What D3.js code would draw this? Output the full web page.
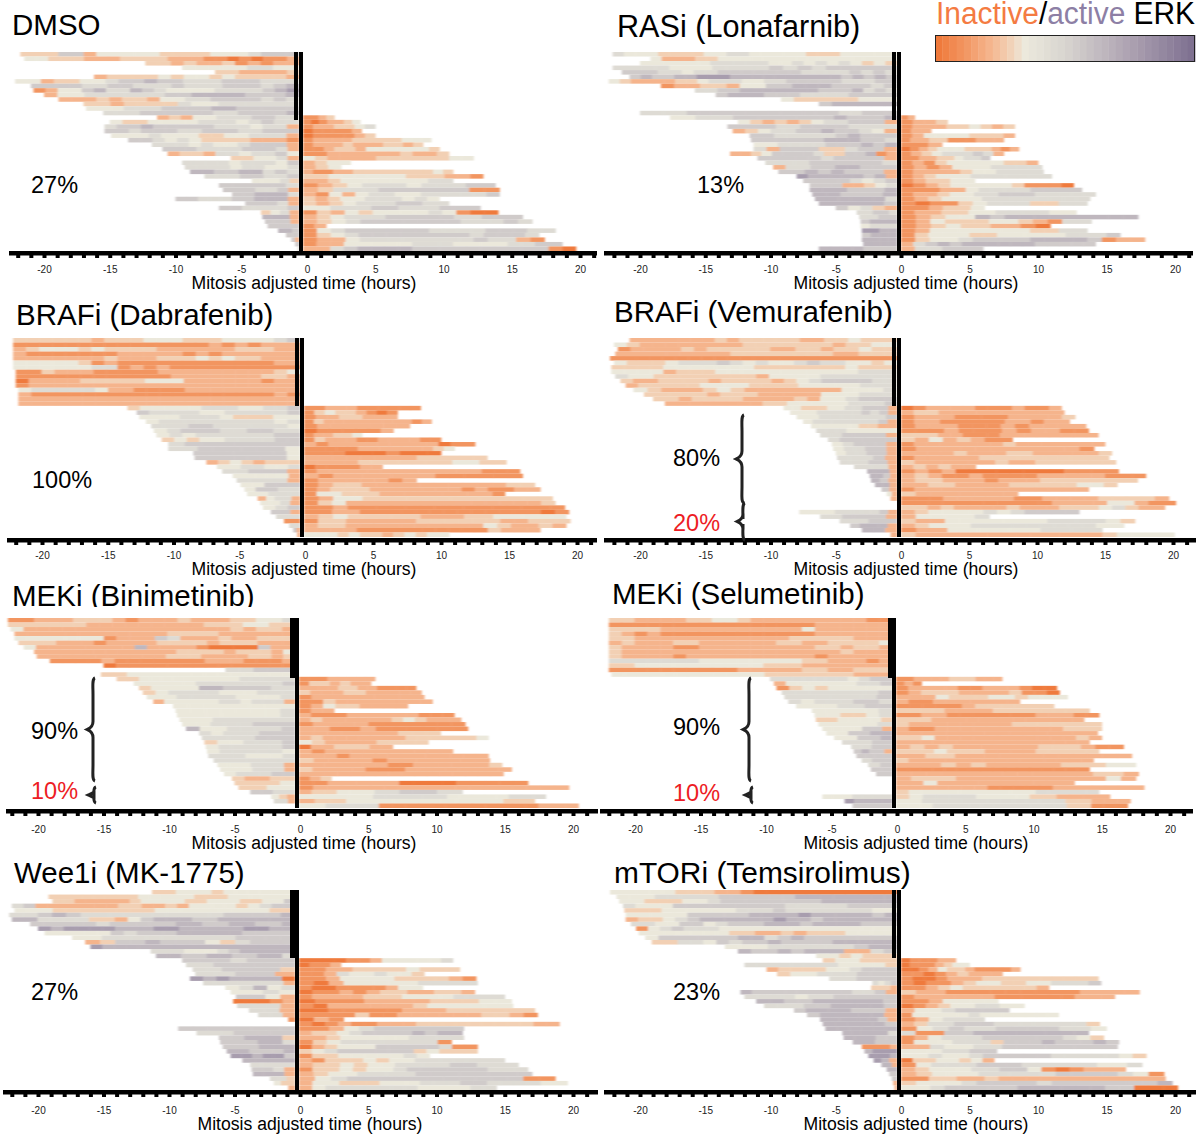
<!DOCTYPE html>
<html>
<head>
<meta charset="utf-8">
<script src="https://cdnjs.cloudflare.com/ajax/libs/d3/7.8.5/d3.min.js"></script>
<style>
  html, body { margin: 0; padding: 0; background: #fff; }
  text { font-family: "Liberation Sans", Arial, sans-serif; }
</style>
</head>
<body>
<div id="my_dataviz"></div>
<script>
// ERK level per block: 0 = most inactive (orange), 4 = neutral, 9 = most active (purple)
// pre rows: [first hour, levels from there up to mitosis]
// post rows: [last hour, levels from mitosis up to there], stacked against the bottom
const dmsoPre = [
  [-21.8,"3336624444433334445666"],[-21.5,"44333222333322211010112"],[-12.3,"332322312122"],[-9.5,"444445544"],
  [-7,"3322223"],[-16.2,"2333343443433332"],[-22.2,"4423344566766555666555"],[-21,"666655665556555666567"],
  [-20.8,"1244675576544445555678"],[-20,"2445555556677776667"],[-18.9,"2223233244556666565"],[-17,"3323333544555555"],
  [-16.8,"44455566667766666"],[-15.5,"5556666665566667"],[-11.4,"232445556655"],[-15,"433444455545655"],
  [-15.4,"5667666665554552"],[-15.4,"6656665566655666"],[-14.9,"444544433445552"],[-13.6,"66545433332221"],
  [-11.8,"555454456662"],[-11,"666555566652"],[-10.6,"23325545564"],[-5.8,"334452"],
  [-9.5,"5555455546"],[-9.3,"5555455445"],[-8.9,"776677565"],[-7.8,"55566556"],
  [-4.2,"44453"],[-6.7,"666665"],[-6.4,"6665562"],[-5.7,"667775"],
  [-10,"66555667772"],[-4.7,"66652"],[-6.7,"6655556"],[-3.5,"3452"],
  [-3.4,"7772"],[-3.2,"6662"],[-3,"666"],[-2.2,"776"],
  [-1.6,"66"],[-1.2,"62"],[-0.9,"6"],[-0.7,"5"]
];
const dmsoPost = [
  [2,"1123"],[3.9,"1012234"],[5,"1223345"],[4,"011112"],[5,"0111123"],[9.1,"1222233333444"],
  [8.5,"122232223323"],[9.7,"1123324444443"],[10.4,"112222223223"],[12.2,"43222233333344"],[3.2,"2344"],[2.5,"234"],
  [10.7,"211223333333343"],[12.9,"33444444333221"],[10.7,"223444444455"],[13.8,"1234555455566"],[14.1,"2355566666611"],[14.1,"214245544555556"],
  [9.7,"32344555454"],[10.4,"32345556655"],[12.7,"4455566555666"],[14,"13243444454100"],[15.8,"2345556666655666"],[16.5,"2345666666655565"],
  [1.4,"12"],[18.2,"145666666555566655"],[17,"13456666666656665"],[17.4,"12245555555565521"],[18.7,"1224444455544445566"],[19.7,"22567777666666666610"]
];
const rasPre = [
  [-22.1,"5444333344554444433344444"],[-19.2,"4222334444444444444444"],[-20,"4444445555544545454343"],[-22.1,"55554445555656566666"],
  [-21.4,"66655455666666655556565"],[-20.8,"676677888777777777767676"],[-22.4,"43222233455544556666655566"],[-18.4,"122332446677766656"],
  [-15.8,"556677777776667565"],[-14.2,"677766655556666"],[-9.2,"433333444"],[-6.3,"677777"],
  [0,""],[-20,"5555666666666666655666"],[-17.7,"445556666666676667"],[-12.5,"4323234556662"],
  [-13.3,"66665566665555"],[-12.9,"2345566766542"],[-11.6,"665555567666"],[-11.5,"666666777665"],
  [-11.3,"445555666767"],[-11.3,"52666335662"],[-13.1,"2234666653366712"],[-11,"66666566662"],
  [-10.4,"555666665"],[-9.8,"2556677666"],[-9.4,"667676662"],[-8,"877777672"],
  [-7.5,"66665456"],[-7,"66622345"],[-7,"7776667"],[-6.8,"776667"],
  [-6.6,"7777775"],[-6.3,"777776"],[-5,"64532"],[-3.4,"55665"],
  [-3.2,"5566"],[-3.1,"6777"],[-3.1,"4555"],[-3,"8877"],
  [-3,"6777"],[-3,"7777"],[-2.9,"7777"],[-6.3,"7777666"]
];
const rasPost = [
  [1,"12"],[3.4,"1223"],[8.3,"1222334323"],[2.2,"122"],[8.3,"1244443332"],[7.5,"12233111222"],
  [3,"112"],[8.6,"0123444333212"],[7.5,"1234555652"],[6.5,"1122334556"],[10,"121344444332"],[10.3,"12124445555"],
  [10.4,"122223445555"],[11,"1234445555555"],[5.4,"123344"],[12.6,"01234444431110"],[13.2,"11122455556666"],[14.2,"1223445566655555"],
  [13.8,"12344455555555"],[13.6,"1011345553355"],[6.1,"112334"],[12.8,"1223344555544"],[17.3,"1234476777777777"],[13.9,"1243334432155"],
  [10.9,"1234332210"],[13.6,"1244444443355"],[16,"1344433444445556"],[17.8,"13445666677776122"],[14.2,"2567677777766666"],[6,"255666"]
];
const dabPre = [
  [-22.2,"3333332333444333444456"],[-22.2,"1111111111111112121222"],[-22.2,"2344434333322222233322"],[-22.2,"2111111122222121222222"],
  [-22.2,"2222222322233343433222"],[-22.2,"4444431211111111111122"],[-22.2,"4444445512121111111111"],[-22,"1132221111122222222234"],
  [-22,"1111111111112222222332"],[-22,"0222233333444222222122"],[-22,"1222222222222222222222"],[-21.8,"4555554221111222222222"],
  [-21.8,"2111111111111111111121"],[-21.8,"2222222222222222222222"],[-21.8,"2222222222222222222222"],[-13.5,"34444455544556"],
  [-12.8,"6555544555556"],[-12.6,"444555433344"],[-12.1,"455555555545"],[-11.7,"555665555554"],
  [-11.5,"45666556655"],[-11.3,"45455555566"],[-10.9,"34344555566"],[-10.4,"56666666"],
  [-10.4,"556666664"],[-8.5,"66666664"],[-8.4,"66666664"],[-7.5,"23432333"],
  [-6.7,"4455445"],[-6.3,"556662"],[-5.5,"444442"],[-5.2,"55552"],
  [-4.9,"44666"],[-4.6,"46655"],[-4.4,"44555"],[-3.6,"24552"],
  [-3.4,"4452"],[-3.2,"456"],[-2.6,"662"],[-2.2,"55"],
  [-1.6,"11"],[-1.2,"55"],[-0.9,"62"],[-0.6,"2"]
];
const dabPost = [
  [8.5,"11222111111"],[6.8,"134332101"],[6.8,"12233222"],[9.3,"1322222222212"],[7.7,"12222222"],
  [6.5,"0111112"],[4.2,"122334"],[10,"1322211222211"],[12.5,"21222222222011"],[11,"11111222222234"],[10,"1110001000"],
  [13.4,"2222222233333"],[14.8,"222233333334433"],[5.7,"0111122"],[15.8,"12222222222222111"],[16,"212222222111111"],[8.2,"12222212"],
  [16.9,"1233222222222233"],[17.3,"123332222222121122"],[14.7,"1443332222222221"],[18.2,"12443333333333333"],[18.4,"134222222222222223"],[19.1,"112111111111111111"],
  [19.4,"1122111111111111101"],[19.2,"234333332223344444"],[19.5,"1332222233333322333"],[19.2,"2332222222222432232"],[17.3,"222211111111113222"],[10.6,"4443433234344"]
];
const vemPre = [
  [-20.8,"2222222323333322334333"],[-22,"4322222222333333323344"],[-21.7,"1222232333332233233433"],[-21.9,"2222222223333333322333"],
  [-22.3,"1111111111111111111111"],[-22,"4333455565454456554434"],[-22.2,"3333444444433333334333"],[-22.2,"4444233344444444444555"],
  [-21.9,"5443333333324444555555"],[-21.5,"3223333233332345666655"],[-21.1,"2333334444333344444555"],[-20.5,"4322234322222224445"],
  [-19.7,"33333233322222444555"],[-19,"3323333222232445666"],[-18.1,"2222222233444445556"],[-9,"4433344556662"],
  [-8.5,"444555556562"],[-8,"445555556"],[-7.5,"4555555562"],[-6.9,"444443322"],
  [-6.5,"55544444"],[-6.2,"5566662"],[-5.6,"566666"],[-5.3,"456662"],
  [-5.2,"455662"],[-5,"455662"],[-4.9,"55562"],[-4.7,"555662"],
  [-3.6,"55552"],[-2.6,"7772"],[-2.4,"7762"],[-2.3,"762"],
  [-2,"772"],[-1.5,"62"],[-1.1,"42"],[-0.8,"2"],
  [0,""],[0,""],[-7.8,"44445555562"],[-6.2,"5566662"],
  [-4.7,"5566"],[-3.9,"67772"],[-3,"772"],[-0.8,"2"]
];
const vemPost = [
  [11.8,"0122221112112"],[12,"2332222222222"],[12.8,"1222111122223"],[12.4,"1221111122122"],[13.6,"1222111212222"],[13.8,"1112111212211"],
  [14.5,"3332211122222222"],[8.2,"32423211"],[15,"1222222232222222"],[14.2,"1222222222221"],[15.5,"2222322233222223"],[15.3,"1222223333333333"],
  [15.8,"3222222322333333"],[5.5,"232322"],[16,"1212000000001111"],[18,"232112111122222111"],[17.4,"23322212223333333"],[15.9,"2233222233333443"],
  [13.8,"12222222222222"],[8.6,"32222222"],[19.7,"1112222211222233332"],[20.2,"11111111111222244211"],[19.4,"33232222322233345322"],
  [13.1,"2344445456666"],[6.5,"244445"],[17.2,"3224444444555543"],[16.4,"2344455555555544"],[14.8,"1224444445555"],[20.1,"3222222222222234444"]
];
const binPre = [
  [-22.3,"1122233321222322233445"],[-22.3,"3333332222222223334433"],[-22.1,"4222222222222222232332"],[-21.8,"2222222222223333222222"],
  [-21.8,"4444444122265222322333"],[-21.5,"3332221222233332333222"],[-21.1,"4222222227222210000622"],[-20.3,"2222222222223333233324"],
  [-20.1,"2222222222233322223323"],[-19.1,"1111211111112221112"],[-15,"011111111111111"],[-5.7,"55666"],
  [-15.2,"334444444444444"],[-14,"3344444444455555"],[-12.7,"4444455555556"],[-12.3,"3444477666655"],
  [-12,"345555444555"],[-11.7,"4455554445"],[-11.2,"2444445545552"],[-9.7,"44444444"],
  [-9.5,"44444445"],[-9.4,"44444445"],[-9.2,"4455555"],[-9,"44555666"],[-8.7,"74455556"],
  [-7.7,"54555666"],[-7.5,"5555666"],[-7.3,"3445556"],[-7.2,"4555556"],[-7.1,"4555554"],
  [-7,"5554445"],[-6.6,"55555"],[-6.3,"4445552"],[-6.1,"4445552"],[-5.8,"455566"],
  [-5.2,"32233"],[-5,"3334"],[-4.7,"3344"],[-3.8,"6655"],
  [-2.2,"432"],[-2,"552"],[0,""]
];
const binPost = [
  [5.5,"11122222"],[5.2,"1332322"],[8.5,"222233221111"],[8.9,"32223322222"],[9.1,"1222222222"],[9.7,"11322222222"],
  [7.9,"124332222"],[2.5,"122"],[11.3,"2111222222111"],[11.8,"23222222343222"],[12.1,"122221111111"],[12.3,"22112111111"],
  [10.3,"2222222333"],[13.8,"2322222223333334"],[9.4,"4322223333"],[6.8,"02233322"],[11.2,"212222222222"],[13.8,"222122222222222"],
  [13.9,"3222212222222"],[14.8,"2222222112222223"],[15.5,"3222211122222222"],[14.9,"2222222222222222"],[2.3,"123"],[16.7,"1122222000011111"],
  [19.7,"1222222222222222222"],[11.9,"2334445566655"],[18,"44444455555544444555"],[17.2,"233444444444433"],[20.4,"445555111111111111222"]
];
const selPre = [
  [-22,"3322223344322222222211"],[-22,"1111111111111111222222"],[-22,"3333222222222224222222"],[-22,"3212111111111111222222"],
  [-22,"3322222222222233333222"],[-22,"2322233222222332233334"],[-22,"3222211222222222332332"],[-22,"3222222222222222223222"],
  [-22,"3222212222222222122222"],[-22,"5555555444444443322212"],[-22,"3344444444443332222222"],[-22,"1111111111222223322333"],
  [-21.8,"4444444444443333333222"],[-9.7,"55555554566"],[-9.4,"2444444556"],[-9.2,"134344444"],
  [-8.8,"55555556"],[-8.6,"5555556"],[-8.3,"54555665"],[-7.7,"4445566"],
  [-6.5,"444445"],[-6.3,"443345"],[-6.2,"3344443"],[-6,"44445"],
  [-5.7,"4444662"],[-5.4,"446677"],[-4.8,"44667"],[-4.2,"55566"],
  [-3.5,"5566"],[-3.3,"67662"],[-3.1,"6666"],[-2.7,"566"],
  [-2.2,"56"],[-2,"66"],[-1.6,"6"],[0,""],
  [0,""],[0,""],[0,""],[-5.7,"4445555"],[-4,"87777"],[-3.4,"666"]
];
const selPost = [
  [7.7,"112222333222"],[1.8,"121"],[11.7,"1222211222100"],[11.9,"1233322223110"],[12.5,"2224333443444"],[9,"2112222222"],
  [11.5,"111112333333"],[14.1,"3333222233333333"],[14.8,"1122111111122211"],[13.7,"3332222222222222"],[15,"3222222223333333"],[15,"2112222222222333"],
  [14.7,"2222222222222222"],[15,"3342222222222232"],[14.1,"2222222222222222"],[16.6,"2323222222333211"],[14.8,"3334333222233333"],[17.2,"2233222222222222"],
  [14.4,"3222222222222222"],[17.5,"2223232222233344"],[14.1,"1111111111111111"],[17.7,"2222222222222332"],[17.5,"2333222222222242"],[13,"2242222222222"],
  [18.1,"2222222111112222222"],[14.8,"3444444444455555"],[15.6,"3455554444332222"],[17.1,"445555555555533222"],[16.9,"4445555555555533111"]
];
const weePre = [
  [-11.3,"334443444444"],[-19.2,"3333333344444333444444"],[-18.9,"3322222344443344433446"],[-22,"562222222332232444434566"],
  [-21.8,"4443333333344444444433"],[-22.2,"55676555555555566667"],[-22,"7755553324677766777777"],[-20.6,"66666566666776677667"],
  [-20,"87888877788777778877"],[-19.5,"4444465666777776666"],[-17.4,"445555555556666"],[-16.4,"23667666435666"],
  [-16,"87777777777777777"],[-11.4,"5554445677777"],[-11,"77667766775"],[-9,"6665666"],
  [-8.7,"55666666"],[-8.2,"5566663"],[-8,"55662"],[-8.4,"87877770"],
  [-7.4,"55555552"],[-5.7,"45745"],[-5.3,"4454"],[-4.9,"6642"],
  [-5.1,"00012"],[-4.8,"5552"],[-3.9,"552"],[-3.2,"552"],[-0.9,"1"],[0,""],
  [-9.3,"66666666"],[-7.9,"55566666"],[-6.2,"667773"],[-6.1,"666775"],
  [-5.9,"6677"],[-5.6,"776667"],[-5.3,"887886"],[-4.4,"7777"],
  [-3.8,"5555"],[-3.7,"6652"],[-3.6,"7772"],[-2.3,"553"],
  [-2,"433"],[-0.9,"2"]
];
const weePost = [
  [11.2,"0000112444445"],[3,"0112"],[11.7,"112233334333"],[9.1,"1125445443"],[12.9,"1124444333321"],[13,"102444445555"],
  [9,"1001111244"],[12.8,"0112123322332"],[15,"1222233344445555"],[15.5,"0111222233344"],[15.6,"102222223444444"],[17.2,"0011111222333333"],
  [17.4,"11113112222223321"],[3.2,"021"],[19,"10121122233333333322"],[12,"11245666666"],[11.9,"2334566667677"],[12,"223444445555"],
  [11.1,"13455555551"],[13,"02344466666511"],[13,"34566666634333"],[9.5,"1334444454"],[15,"2133343445555555"],[16,"2334344555566555"],
  [16.7,"13343445666666555"],[17,"2344555566666666"],[18.7,"2456666666666611"],[19.6,"24433344455566555544"],[14.4,"245555555444455"]
];
const mtorPre = [
  [-22.3,"4444433322100000000000"],[-21.8,"4445555566666677777777"],[-21.6,"4433344566666666777777"],[-21.3,"5444666666666555556666"],
  [-21.2,"3334444445556555555544"],[-21.1,"4444466666777787777767"],[-21.1,"2334567777778776777777"],[-20.7,"5544664566677767777666"],
  [-20.3,"1456555444444444444444"],[-20.1,"44444443322323334444"],[-19.6,"4666666775676666666"],[-19.1,"3355465667666677777"],
  [-13.5,"444555555677"],[-12.5,"766767772256"],[-6.5,"4434333"],[-6,"344333"],
  [-12,"5555555544443"],[-10.3,"23333445666"],[-9.5,"344555666"],[-5.5,"55666"],
  [-2.2,"5456"],[-2.3,"3332"],[-12.3,"76666666665562"],[-12,"555545566666"],
  [-11.1,"7766777776"],[-10.5,"5556677776"],[-8.2,"677776662"],[-7.2,"6777772"],
  [-6.2,"77777762"],[-6,"777776"],[-5.8,"777777"],[-4.5,"777775"],
  [-4.4,"77766"],[-3.7,"7766"],[-3,"11112"],[-2.8,"7888"],
  [-2.5,"8887"],[-2.1,"872"],[-1.5,"772"],[-1.1,"7"],
  [-0.9,"6"],[-0.7,"6"],[-0.6,"2"],[-0.5,"2"]
];
const mtorPost = [
  [4,"011122"],[5,"01112344"],[8.7,"0012433211112"],[7.4,"110123222"],[14.4,"10012223333333333"],[14.6,"1011234433445556"],
  [10.8,"112343333332"],[17.4,"3221111111112222"],[15.6,"1222222111111222"],[7.1,"1124444"],[9,"0123445544"],[7.9,"24456666"],
  [11.5,"14444454444444"],[6.1,"124555"],[14.5,"235566655555553"],[15,"1456556666554"],[13.7,"5116677777777"],[14.8,"124555666666543"],
  [15.9,"14445553666766676"],[15.8,"225445566666666"],[7,"4445566"],[17.9,"445445666665555543"],[6.8,"03344342"],[17.6,"1455566655555445"],
  [16.4,"2344455664101222"],[19.2,"23444555556666541"],[19.3,"1133223222222222222"],[19.8,"344456666566666667"],[20.2,"4456666677777766000"]
];

const tickLabels = [-20, -15, -10, -5, 0, 5, 10, 15, 20];
const axisTitle = "Mitosis adjusted time (hours)";
// legend position of every level digit, and the colours along the legend
const levelPositions = [0, 0.1, 0.2, 0.28, 0.35, 0.45, 0.55, 0.65, 0.78, 1];
const legendPositions = [0, 0.1, 0.2, 0.28, 0.34, 0.5, 0.75, 1];
const legendColors = ["#ef7a3c", "#f29560", "#f5b48c", "#f2d0b4", "#ece9dc", "#d8d5d0", "#aea3b2", "#7f7191"];

const panels = [
  {title: "DMSO", size: 29.5, tx: 12, ty: 35, pre: dmsoPre, post: dmsoPost, top: 52, bottom: 251, ax: [44, 307, 580], axis: [9, 597], axisY: 253, bar: [294, 298, 120], tall: [299, 303], ly: 289, lx: 304},
  {title: "RASi (Lonafarnib)", size: 30.6, tx: 617, ty: 37, pre: rasPre, post: rasPost, top: 52, bottom: 251, ax: [640, 901, 1175], axis: [604, 1193], axisY: 253, bar: [892, 896, 120], tall: [897, 901], ly: 289, lx: 906},
  {title: "BRAFi (Dabrafenib)", size: 29.5, tx: 16, ty: 325, pre: dabPre, post: dabPost, top: 338, bottom: 537, ax: [42, 305, 577], axis: [7, 597], axisY: 540, bar: [295, 299, 406], tall: [300, 304], ly: 575, lx: 304},
  {title: "BRAFi (Vemurafenib)", size: 29.5, tx: 614, ty: 322, pre: vemPre, post: vemPost, top: 338, bottom: 537, ax: [640, 901, 1173], axis: [604, 1196], axisY: 540, bar: [892, 896, 406], tall: [897, 901], ly: 575, lx: 906},
  {title: "MEKi (Binimetinib)", size: 29.5, tx: 12, ty: 606, pre: binPre, post: binPost, top: 618, bottom: 808, ax: [38, 300, 573], axis: [6, 598], axisY: 811, bar: [290, 295, 678], tall: [295, 299], ly: 849, lx: 304},
  {title: "MEKi (Selumetinib)", size: 29.5, tx: 612, ty: 604, pre: selPre, post: selPost, top: 618, bottom: 808, ax: [635, 897, 1170], axis: [600, 1193], axisY: 811, bar: [888, 892, 678], tall: [892, 896], ly: 849, lx: 916},
  {title: "Wee1i (MK-1775)", size: 29.5, tx: 14, ty: 883, pre: weePre, post: weePost, top: 890, bottom: 1090, ax: [38, 300, 573], axis: [3, 598], axisY: 1092, bar: [290, 295, 958], tall: [295, 299], ly: 1130, lx: 310},
  {title: "mTORi (Temsirolimus)", size: 29.9, tx: 614, ty: 883, pre: mtorPre, post: mtorPost, top: 890, bottom: 1090, ax: [640, 901, 1175], axis: [604, 1196], axisY: 1092, bar: [892, 896, 958], tall: [897, 901], ly: 1130, lx: 916}
];

// percentages next to the rows
const percentLabels = [
  ["27%", 31, 193, "#000"], ["13%", 697, 193, "#000"], ["100%", 32, 488, "#000"], ["80%", 673, 466, "#000"],
  ["20%", 673, 531, "#ed1c24"], ["90%", 31, 739, "#000"], ["10%", 31, 799, "#ed1c24"], ["90%", 673, 735, "#000"],
  ["10%", 673, 801, "#ed1c24"], ["27%", 31, 1000, "#000"], ["23%", 673, 1000, "#000"]
];
// x, tip x, y top, y bottom
const braces = [
  [742, 736, 415, 503], [743, 737, 503, 540], [93, 87, 678, 781], [94, 88, 787, 803], [749, 743, 678, 781], [751, 745, 787, 803]
];

const svg = d3.select("#my_dataviz")
  .append("svg")
    .attr("width", 1198)
    .attr("height", 1143)
    .style("display", "block");

// the reference is a resampled bitmap, so the cells are slightly soft
svg.append("defs").append("filter")
    .attr("id", "soft")
    .attr("x", "-2%").attr("y", "-2%").attr("width", "104%").attr("height", "104%")
  .append("feGaussianBlur")
    .attr("stdDeviation", "0.9 0.35");

const color = d3.scaleLinear()
  .domain(legendPositions)
  .range(legendColors)
  .clamp(true);

panels.forEach(p => {
  svg.append("text")
    .attr("x", p.tx)
    .attr("y", p.ty)
    .attr("font-size", p.size)
    .text(p.title);

  // the source figure cuts this title off
  if (p.title.startsWith("MEKi (Bini")) {
    svg.append("rect").attr("x", 0).attr("y", 607).attr("width", 290).attr("height", 11).attr("fill", "#fff");
  }

  const x = d3.scaleLinear().domain([-20, 0, 20]).range(p.ax);
  const y = d3.scaleBand().domain(d3.range(p.pre.length)).range([p.top, p.bottom]);
  const offset = p.pre.length - p.post.length;
  const stopPre = x.invert(p.tall[0]);
  const startPost = x.invert(p.tall[1]);

  const cells = [];
  p.pre.forEach((r, i) => {
    const step = (stopPre - r[0]) / r[1].length;
    Array.from(r[1]).forEach((c, j) => cells.push({row: i, t0: r[0] + j * step, t1: r[0] + (j + 1) * step, v: +c}));
  });
  p.post.forEach((r, i) => {
    const step = (r[0] - startPost) / r[1].length;
    Array.from(r[1]).forEach((c, j) => cells.push({row: i + offset, t0: startPost + j * step, t1: startPost + (j + 1) * step, v: +c}));
  });

  svg.append("g")
    .attr("filter", "url(#soft)")
    .selectAll("rect")
    .data(cells)
    .join("rect")
      .attr("x", d => x(d.t0))
      .attr("y", d => y(d.row))
      .attr("width", d => x(d.t1) - x(d.t0) + 0.4)
      .attr("height", y.bandwidth())
      .attr("fill", d => color(levelPositions[d.v]));

  // black mitosis marks
  const g = svg.append("g");
  g.append("rect").attr("x", p.bar[0]).attr("y", p.top).attr("width", p.bar[1] - p.bar[0]).attr("height", p.bar[2] - p.top);
  g.append("rect").attr("x", p.tall[0]).attr("y", p.top).attr("width", p.tall[1] - p.tall[0]).attr("height", p.bottom - p.top);

  // thick baseline with one small tick per hour
  const hours = d3.range(-23, 24).filter(h => x(h) > p.axis[0] + 2 && x(h) < p.axis[1] - 2);
  const minor = svg.append("g")
    .attr("transform", `translate(0,${p.axisY})`)
    .call(d3.axisBottom(x).tickValues(hours).tickSize(5).tickFormat(""));
  minor.select(".domain").remove();
  minor.selectAll("line").attr("stroke", "#000").attr("stroke-width", 4);

  const major = svg.append("g")
    .attr("transform", `translate(0,${p.ly - 23})`)
    .call(d3.axisBottom(x).tickValues(tickLabels).tickSize(0).tickPadding(0).tickFormat(d => String(d)));
  major.select(".domain").remove();
  major.selectAll("text").attr("font-size", 10).attr("font-family", '"Liberation Sans", Arial, sans-serif').attr("fill", "#222");

  svg.append("rect")
    .attr("x", p.axis[0])
    .attr("y", p.axisY - 2)
    .attr("width", p.axis[1] - p.axis[0])
    .attr("height", 4.5);

  svg.append("text")
    .attr("x", p.lx)
    .attr("y", p.ly)
    .attr("text-anchor", "middle")
    .attr("font-size", 17.6)
    .text(axisTitle);
});

svg.selectAll(".percent")
  .data(percentLabels)
  .join("text")
    .attr("class", "percent")
    .attr("x", d => d[1])
    .attr("y", d => d[2])
    .attr("font-size", 23.5)
    .attr("fill", d => d[3])
    .text(d => d[0]);

const bracePath = ([bx, tip, y0, y1]) => {
  const m = d3.path(), mid = (y0 + y1) / 2, r = Math.min(8, (y1 - y0) / 4);
  m.moveTo(bx + 2, y0);
  m.bezierCurveTo(bx - 1, y0 + 1, bx, y0 + r, bx, y0 + 2 * r);
  m.lineTo(bx, mid - r);
  m.bezierCurveTo(bx, mid - 2, tip + 2, mid - 1, tip, mid);
  m.bezierCurveTo(tip + 2, mid + 1, bx, mid + 2, bx, mid + r);
  m.lineTo(bx, y1 - 2 * r);
  m.bezierCurveTo(bx, y1 - r, bx - 1, y1 - 1, bx + 2, y1);
  return m.toString();
};
svg.selectAll(".brace")
  .data(braces)
  .join("path")
    .attr("class", "brace")
    .attr("d", bracePath)
    .attr("fill", "none")
    .attr("stroke", "#222")
    .attr("stroke-width", 3);

// legend
const legendTitle = svg.append("text")
  .attr("x", 936)
  .attr("y", 24)
  .attr("font-size", 31)
  .attr("textLength", 259)
  .attr("lengthAdjust", "spacingAndGlyphs");
legendTitle.append("tspan").attr("fill", "#f47b42").text("Inactive");
legendTitle.append("tspan").attr("fill", "#000").text("/");
legendTitle.append("tspan").attr("fill", "#8d7fa5").text("active");
legendTitle.append("tspan").attr("fill", "#000").text(" ERK");

const legendSteps = d3.range(36);
const legendX = d3.scaleBand().domain(legendSteps).range([935, 1195]);
svg.append("g").selectAll("rect")
  .data(legendSteps)
  .join("rect")
    .attr("x", d => legendX(d))
    .attr("y", 35)
    .attr("width", legendX.bandwidth() + 0.4)
    .attr("height", 27)
    .attr("fill", d => color(d / 35));
svg.append("rect")
  .attr("x", 935.5)
  .attr("y", 35.5)
  .attr("width", 259)
  .attr("height", 26)
  .attr("fill", "none")
  .attr("stroke", "#222");
</script>
</body>
</html>
